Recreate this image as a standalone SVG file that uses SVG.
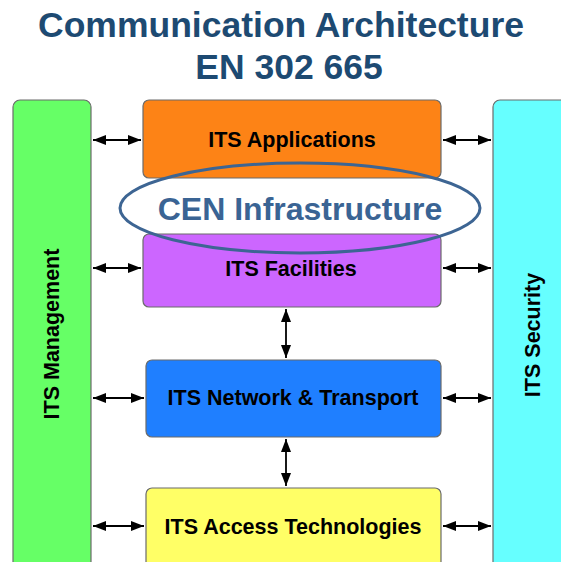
<svg xmlns="http://www.w3.org/2000/svg" width="561" height="562" viewBox="0 0 561 562">
  <style>
    .title { font-family: "Liberation Sans", Arial, sans-serif; font-weight: bold; font-size: 35.5px; fill: #1d4a72; text-anchor: middle; }
    .box { stroke: #6b6b6b; stroke-width: 1.2; }
    .lbl { font-family: "Liberation Sans", Arial, sans-serif; font-weight: bold; font-size: 21.5px; fill: #000; text-anchor: middle; dominant-baseline: central; }
    .conn { stroke: #000; stroke-width: 1.8; fill: none; marker-start: url(#ah); marker-end: url(#ah); }
    .cen { font-family: "Liberation Sans", Arial, sans-serif; font-weight: bold; font-size: 32px; fill: #3a6494; text-anchor: middle; }
  </style>
  <defs>
    <marker id="ah" viewBox="0 0 13 10" refX="13" refY="5" markerWidth="13" markerHeight="10" markerUnits="userSpaceOnUse" orient="auto-start-reverse">
      <path d="M0,0 L13,5 L0,10 Z" fill="#000"/>
    </marker>
  </defs>
  <rect width="561" height="562" fill="#fff"/>

  <text class="title" x="281" y="37">Communication Architecture</text>
  <text class="title" x="289" y="79">EN 302 665</text>

  <g id="management">
    <rect class="box" x="13" y="100" width="78" height="480" rx="7" fill="#66ff66"/>
    <text class="lbl" transform="translate(52,334) rotate(-90)" x="0" y="0">ITS Management</text>
  </g>
  <g id="security">
    <rect class="box" x="493" y="100" width="90" height="480" rx="7" fill="#66ffff"/>
    <text class="lbl" transform="translate(533,335) rotate(-90)" x="0" y="0">ITS Security</text>
  </g>
  <g id="applications">
    <rect class="box" x="143" y="100" width="298" height="78" rx="6" fill="#fd8316"/>
    <text class="lbl" x="292" y="140">ITS Applications</text>
  </g>
  <g id="facilities">
    <rect class="box" x="143" y="234" width="298" height="73" rx="6" fill="#cc66ff"/>
    <text class="lbl" x="291" y="269">ITS Facilities</text>
  </g>
  <g id="network">
    <rect class="box" x="146" y="360" width="295" height="77" rx="6" fill="#1f7fff"/>
    <text class="lbl" x="293" y="398">ITS Network &amp; Transport</text>
  </g>
  <g id="access">
    <rect class="box" x="146" y="488" width="295" height="90" rx="6" fill="#ffff66"/>
    <text class="lbl" x="293" y="527">ITS Access Technologies</text>
  </g>

  <g id="cen">
    <ellipse cx="300" cy="208" rx="180" ry="45" fill="none" stroke="#3d6593" stroke-width="3"/>
    <text class="cen" x="300" y="220">CEN Infrastructure</text>
  </g>

  <g id="connectors">
    <line class="conn" x1="93" y1="140" x2="141" y2="140"/>
    <line class="conn" x1="93" y1="268" x2="141" y2="268"/>
    <line class="conn" x1="93" y1="398" x2="144" y2="398"/>
    <line class="conn" x1="93" y1="526" x2="144" y2="526"/>
    <line class="conn" x1="443" y1="140" x2="491" y2="140"/>
    <line class="conn" x1="443" y1="268" x2="491" y2="268"/>
    <line class="conn" x1="443" y1="398" x2="491" y2="398"/>
    <line class="conn" x1="443" y1="526" x2="491" y2="526"/>
    <line class="conn" x1="286" y1="309" x2="286" y2="358"/>
    <line class="conn" x1="286" y1="439" x2="286" y2="486"/>
  </g>
</svg>
